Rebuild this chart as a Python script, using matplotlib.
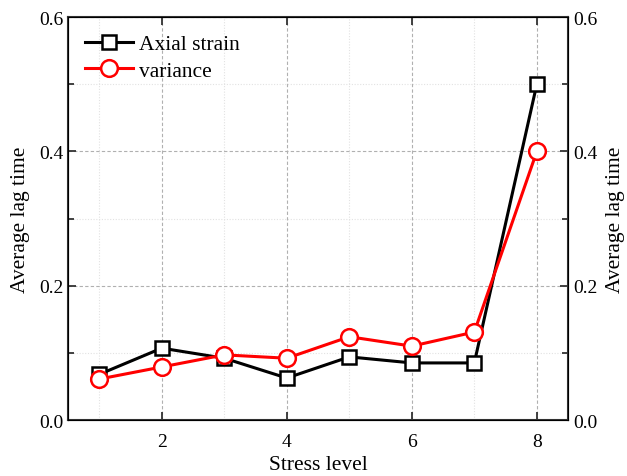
import matplotlib
matplotlib.use("Agg")
import matplotlib.pyplot as plt
from matplotlib.ticker import MultipleLocator

plt.rcParams['font.family'] = ['Liberation Serif', 'DejaVu Serif']

stress = [1, 2, 3, 4, 5, 6, 7, 8]
axial = [0.068, 0.107, 0.092, 0.0625, 0.094, 0.085, 0.085, 0.500]
variance = [0.061, 0.079, 0.097, 0.092, 0.124, 0.110, 0.131, 0.400]

fig = plt.figure(figsize=(6.27, 4.77), dpi=100)
ax = fig.add_axes([0.1085, 0.1174, 0.7975, 0.8446])

ax.plot(stress, axial, color='black', lw=2.2, marker='s', ms=10, mfc='white',
        mec='black', mew=1.8, label='Axial strain', zorder=3)
ax.plot(stress, variance, color='red', lw=2.2, marker='o', ms=12, mfc='white',
        mec='red', mew=1.8, label='variance', zorder=3)

ax.set_xlim(0.5, 8.5)
ax.set_ylim(0, 0.6)
ax.xaxis.set_major_locator(MultipleLocator(2))
ax.xaxis.set_minor_locator(MultipleLocator(1))
ax.yaxis.set_major_locator(MultipleLocator(0.2))
ax.yaxis.set_minor_locator(MultipleLocator(0.1))
ax.yaxis.set_major_formatter(plt.FuncFormatter(lambda v, p: '%.1f' % v))

ax.grid(which='major', color='#b0b0b0', ls=(0, (3, 2)), lw=0.8)
ax.grid(which='minor', color='#e2e2e2', ls=(0, (1, 1.5)), lw=0.8)
ax.set_axisbelow(True)

ax.tick_params(which='both', direction='in', top=True, right=False,
               labelsize=14, width=1.3, color='#333333')
ax.tick_params(which='major', length=6)
ax.tick_params(which='minor', length=4)
ax.tick_params(axis='x', which='minor', length=0)
ax.tick_params(axis='x', which='major', pad=9)
for s in ax.spines.values():
    s.set_linewidth(1.5)
    s.set_color('#333333')

ax.set_xlabel('Stress level', fontsize=15.5, labelpad=4)
ax.set_ylabel('Average lag time', fontsize=15.5, labelpad=6)

ax2 = ax.twinx()
ax2.set_ylim(0, 0.6)
ax2.yaxis.set_major_locator(MultipleLocator(0.2))
ax2.yaxis.set_minor_locator(MultipleLocator(0.1))
ax2.yaxis.set_major_formatter(plt.FuncFormatter(lambda v, p: '%.1f' % v))
ax2.tick_params(which='both', direction='in', labelsize=14, width=1.3,
                color='#333333')
ax2.tick_params(which='major', length=6)
ax2.tick_params(which='minor', length=4)
ax2.set_ylabel('Average lag time', fontsize=15.5, labelpad=6)

ax.legend(loc='upper left', frameon=False, fontsize=15.5, handlelength=2.2,
          borderaxespad=0.4, labelspacing=0.3, handletextpad=0.3)

fig.savefig('out.png', dpi=100)
